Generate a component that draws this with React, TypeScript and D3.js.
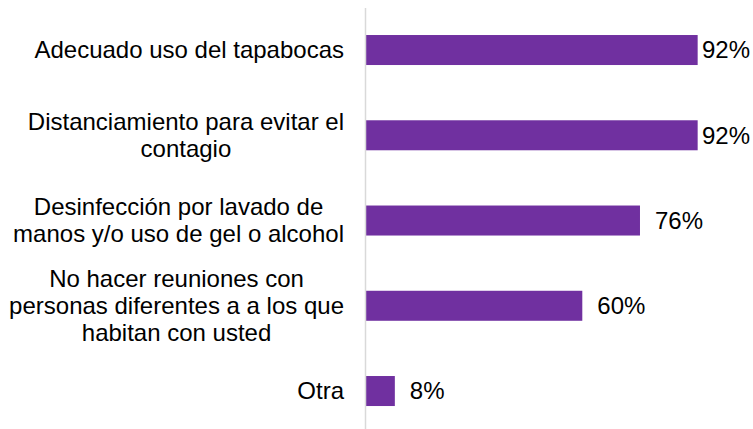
import React from "react";
import * as d3 from "d3";

const categories: string[][] = [
  ["Adecuado uso del tapabocas"],
  ["Distanciamiento para evitar el", "contagio"],
  ["Desinfección por lavado de", "manos y/o uso de gel o alcohol"],
  ["No hacer reuniones con", "personas diferentes a a los que", "habitan con usted"],
  ["Otra"],
];
const values: number[] = [0.92, 0.92, 0.76, 0.6, 0.08];
const valueLabels: string[] = ["92%", "92%", "76%", "60%", "8%"];

const W = 753;
const H = 429;
const FS = 24;
const FONT = `${FS}px 'Liberation Sans', Arial, sans-serif`;
const LINE_H = 27;

let ctx: CanvasRenderingContext2D | null = null;
function measure(t: string): number {
  if (typeof document === "undefined") return t.length * 11;
  if (!ctx) ctx = document.createElement("canvas").getContext("2d");
  if (!ctx) return t.length * 11;
  ctx.font = FONT;
  return ctx.measureText(t).width;
}

export default function App() {
  const keys = categories.map((c) => c.join(" "));
  const x = d3.scaleLinear().domain([0, 1]).range([366, 726.5]);
  const y = d3
    .scaleBand<string>()
    .domain(keys)
    .range([7.4, 433.65])
    .paddingInner(0.648)
    .paddingOuter(0.324);
  const labelRight = 344;
  const chartRight = 750;

  return (
    <svg
      width={W}
      height={H}
      style={{ position: "absolute", left: 0, top: 0, background: "#fff" }}
      fontFamily="'Liberation Sans', Arial, sans-serif"
      fontSize={FS}
    >
      <rect width={W} height={H} fill="#fff" />
      {categories.map((lines, i) => {
        const key = keys[i];
        const y0 = y(key)!;
        const cy = y0 + y.bandwidth() / 2;
        const maxW = Math.max(...lines.map(measure));
        const cx = labelRight - maxW / 2;
        const firstBase = cy - ((lines.length - 1) * LINE_H) / 2 + FS * 0.35;
        const end = x(values[i]);
        const vw = measure(valueLabels[i]);
        let vx = end + 15;
        if (vx + vw > chartRight) vx = chartRight - vw;
        return (
          <g key={key}>
            <rect
              x={x(0)}
              y={y0}
              width={end - x(0)}
              height={y.bandwidth()}
              fill="#7030A0"
            />
            {lines.map((ln, j) => (
              <text
                key={j}
                x={cx}
                y={firstBase + j * LINE_H}
                textAnchor="middle"
                fill="#000"
              >
                {ln}
              </text>
            ))}
            <text x={vx} y={cy + FS * 0.35} fill="#000">
              {valueLabels[i]}
            </text>
          </g>
        );
      })}
      <line x1={365.5} x2={365.5} y1={8} y2={H} stroke="#d9d9d9" strokeWidth={1.5} />
    </svg>
  );
}
